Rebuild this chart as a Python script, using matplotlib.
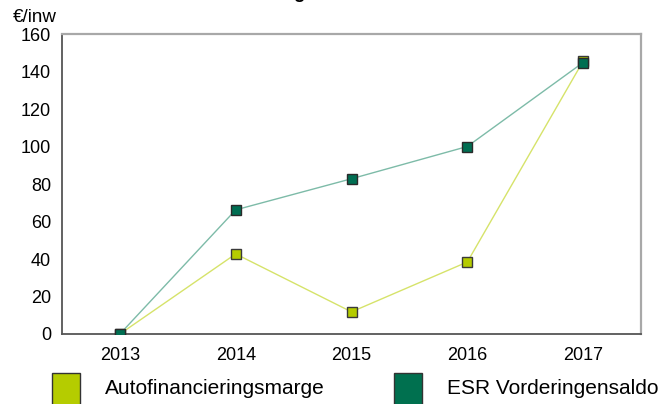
import matplotlib
matplotlib.use("Agg")
import matplotlib.pyplot as plt
from matplotlib.patches import Rectangle

plt.rcParams['font.family'] = ['Liberation Sans', 'DejaVu Sans']

years = ["2013", "2014", "2015", "2016", "2017"]
afm = [0, 42.7, 11.8, 38.4, 145.5]
esr = [0, 66.2, 82.8, 100.0, 144.8]
yticks = [0, 20, 40, 60, 80, 100, 120, 140, 160]
series_names = ["Autofinancieringsmarge", "ESR Vorderingensaldo"]
title = "Grafiek 4: Evolutie ESR Vorderingensaldo en AFM"
unit = "€/inw"

W, H = 663, 404
fig = plt.figure(figsize=(W / 100, H / 100), dpi=100)
L, R, T, B = 62, 641, 34, 334
ax = fig.add_axes([L / W, (H - B) / H, (R - L) / W, (B - T) / H])

x = list(range(len(years)))
ax.plot(x, afm, color='#d6e36a', lw=1.0, marker='s', ms=7.5,
        mfc='#b5cc00', mec='#3a3a3a', mew=1.0, zorder=3)
ax.plot(x, esr, color='#7dbba8', lw=1.0, marker='s', ms=7.5,
        mfc='#006e52', mec='#2a2a2a', mew=1.0, zorder=4)

ax.set_xlim(-0.5, len(years) - 0.5)
ax.set_ylim(0, 160)
ax.set_xticks(x)
ax.set_xticklabels(years)
ax.set_yticks(yticks)
ax.tick_params(axis='both', length=0, labelsize=13, colors='black')
ax.tick_params(axis='y', pad=8)
ax.tick_params(axis='x', pad=9.5)
for s in ['left', 'bottom']:
    ax.spines[s].set_color('#555555')
    ax.spines[s].set_linewidth(1.3)
for s in ['top', 'right']:
    ax.spines[s].set_color('#a8a8a8')
    ax.spines[s].set_linewidth(1.6)

# unit label
fig.text(13 / W, 1 - 17 / H, unit, fontsize=13.5, va='center', ha='left')

# cut-off title at the top
fig.text(5 / W, 1 + 2 / H, title, fontsize=13.5, fontweight='bold',
         va='baseline', ha='left', color='black')

# legend
colors = ['#b5cc00', '#00704f']
sq_x = [52, 394]
tx_x = [105, 447]
for c, sx, tx, name in zip(colors, sq_x, tx_x, series_names):
    fig.patches.append(Rectangle((sx / W, -0.02), 28 / W, (H - 373) / H + 0.02,
                                 transform=fig.transFigure, facecolor=c,
                                 edgecolor='#333333', lw=1.0))
    fig.text(tx / W, 1 - 389 / H, name, fontsize=15, va='center', ha='left')

fig.savefig('out.png', dpi=100)
